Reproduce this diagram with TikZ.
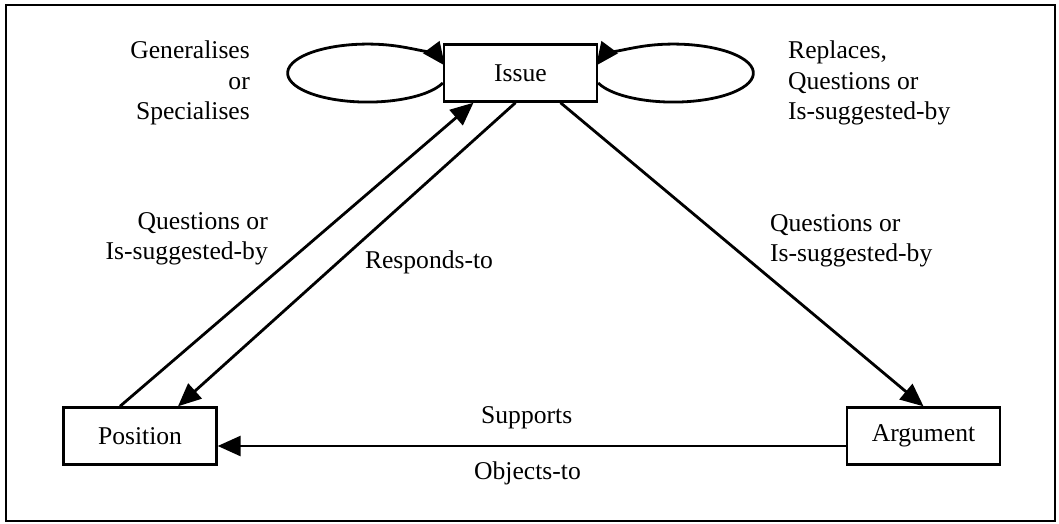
\documentclass[tikz,border=0pt]{standalone}
\usepackage{fontspec}
\setmainfont{Liberation Serif}
\usetikzlibrary{arrows.meta}
\tikzset{
  box/.style={draw, line width=2.4pt, minimum width=153pt, minimum height=57pt, inner sep=0pt},
  lbl/.style={inner sep=0pt, font=\fontsize{25.6}{30.5}\selectfont},
  arr/.style={line width=2.8pt, -{Triangle[length=23pt,width=20pt]}}
}
\begin{document}
\begin{tikzpicture}[x=1pt,y=1pt]
\useasboundingbox (0,0) rectangle (1059,523);
\draw[line width=2.4pt] (6,2) rectangle (1055,518);
% the three boxes
\node[box,lbl] (issue) at (520.5,450) {Issue};
\node[box,lbl] (position) at (140,87) {Position};
\node[box,lbl] (argument) at (923.5,87) {Argument};
% loops on the issue
\draw[arr] ([yshift=-10pt]issue.west) arc[start angle=-20, end angle=-345, x radius=80, y radius=29];
\draw[arr] ([yshift=-10pt]issue.east) arc[start angle=200, end angle=525, x radius=80, y radius=29];
% links between the boxes
\draw[arr] ([xshift=-20pt]position.north) -- ([xshift=-47pt]issue.south);
\draw[arr] ([xshift=-5pt]issue.south) -- ([xshift=38pt]position.north);
\draw[arr] ([xshift=40pt]issue.south) -- (argument.north);
\draw[arr] ([yshift=-10pt]argument.west) -- ([yshift=-10pt]position.east);
% labels
\node[lbl, align=right, anchor=east] (gen) at (250,440) {Generalises\\or\\Specialises};
\node[lbl, align=left, anchor=west] (repl) at (788,440) {Replaces,\\Questions or\\Is-suggested-by};
\node[lbl, align=right, anchor=east] (qleft) at (268,284) {Questions or\\Is-suggested-by};
\node[lbl] (resp) at (429,261) {Responds-to};
\node[lbl, align=left, anchor=west] (qright) at (770,282) {Questions or\\Is-suggested-by};
\node[lbl, anchor=west] (supp) at (481,105) {Supports};
\node[lbl, anchor=west] (obj) at (474,50) {Objects-to};
\end{tikzpicture}
\end{document}
